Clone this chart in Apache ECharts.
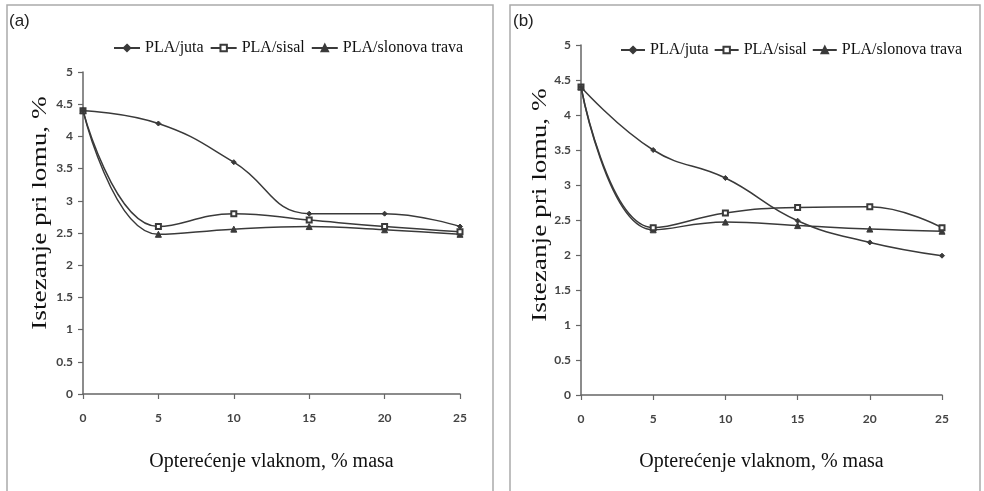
<!DOCTYPE html>
<html>
<head>
<meta charset="utf-8">
<script src="https://cdn.jsdelivr.net/npm/echarts@6/dist/echarts.min.js"></script>
<style>
html,body{margin:0;padding:0;background:#fff;}
#c{width:984px;height:491px;}
</style>
</head>
<body>
<div id="c"></div>
<script>
// ---- data ----
const loading = [0, 5, 10, 15, 20, 25];
const seriesNames = ['PLA/juta', 'PLA/sisal', 'PLA/slonova trava'];
// panel (a)
const aJuta    = [4.4, 4.2, 3.6, 2.8, 2.8, 2.6];
const aSisal   = [4.4, 2.6, 2.8, 2.7, 2.6, 2.52];
const aSlonova = [4.4, 2.48, 2.56, 2.6, 2.55, 2.48];
// panel (b)
const bJuta    = [4.4, 3.5, 3.1, 2.49, 2.18, 1.99];
const bSisal   = [4.4, 2.39, 2.6, 2.68, 2.69, 2.39];
const bSlonova = [4.4, 2.36, 2.47, 2.42, 2.37, 2.34];
const yTicks = [0, 0.5, 1, 1.5, 2, 2.5, 3, 3.5, 4, 4.5, 5];
const xTitle = 'Opterećenje vlaknom, % masa';
const yTitle = 'Istezanje pri lomu, %';

const pair = (xs, ys) => xs.map((x, i) => [x, ys[i]]);

const lineColor = '#3a3a3a';
const symbols = ['diamond', 'emptyRect', 'triangle'];
const symbolSizes = [5, 5, 6];

function mkSeries(name, idx, data, axisIdx) {
  return {
    type: 'line', name: name, xAxisIndex: axisIdx, yAxisIndex: axisIdx,
    data: data, smooth: 0.45,
    symbol: symbols[idx], symbolSize: symbolSizes[idx], showSymbol: true,
    lineStyle: {color: lineColor, width: 1.5},
    itemStyle: {color: lineColor, borderColor: lineColor, borderWidth: 1},
    emphasis: {disabled: true}, animation: false, z: 3 - idx
  };
}

const tickFont = {color: '#444', fontFamily: 'Lato', fontWeight: 'bold', fontSize: 12};
function mkX(grid, gap) {
  return {
    type: 'value', gridIndex: grid, min: 0, max: 25, interval: 5,
    name: xTitle, nameLocation: 'middle', nameGap: gap,
    nameTextStyle: {fontFamily: 'Liberation Serif', fontSize: 20, color: '#111'},
    axisLine: {show: true, onZero: false, lineStyle: {color: '#666', width: 1.5}},
    axisTick: {show: true, inside: false, length: 5, lineStyle: {color: '#666', width: 1.2}},
    axisLabel: Object.assign({margin: 18}, tickFont),
    splitLine: {show: false}
  };
}
function mkY(grid) {
  return {
    type: 'value', gridIndex: grid, min: 0, max: 5, interval: 0.5,
    axisLine: {show: true, lineStyle: {color: '#666', width: 1.5}},
    axisTick: {show: true, inside: false, length: 5, lineStyle: {color: '#666', width: 1.2}},
    axisLabel: Object.assign({margin: 10, formatter: v => String(v)}, tickFont),
    splitLine: {show: false}
  };
}
const legendText = {fontFamily: 'Liberation Serif', fontSize: 16, color: '#111'};

const chart = echarts.init(document.getElementById('c'), null, {renderer: 'canvas'});
chart.setOption({
  backgroundColor: '#fff',
  animation: false,
  grid: [
    {left: 83, top: 72, width: 377, height: 322},
    {left: 581, top: 45, width: 361, height: 350}
  ],
  xAxis: [mkX(0, 58), mkX(1, 57)],
  yAxis: [mkY(0), mkY(1)],
  legend: [
    {left: 108, top: 35, itemWidth: 26, itemHeight: 8, itemGap: 6, textStyle: legendText,
     data: seriesNames, selectedMode: false},
    {left: 615, top: 37, itemWidth: 24, itemHeight: 8, itemGap: 5, textStyle: legendText,
     data: seriesNames, selectedMode: false}
  ],
  series: [
    mkSeries(seriesNames[0], 0, pair(loading, aJuta), 0),
    mkSeries(seriesNames[1], 1, pair(loading, aSisal), 0),
    mkSeries(seriesNames[2], 2, pair(loading, aSlonova), 0),
    mkSeries(seriesNames[0], 0, pair(loading, bJuta), 1),
    mkSeries(seriesNames[1], 1, pair(loading, bSisal), 1),
    mkSeries(seriesNames[2], 2, pair(loading, bSlonova), 1)
  ],
  graphic: [
    {type: 'rect', shape: {x: 7, y: 5, width: 486, height: 500}, style: {fill: 'none', stroke: '#aaa', lineWidth: 1.5}, silent: true},
    {type: 'rect', shape: {x: 510, y: 5, width: 470, height: 500}, style: {fill: 'none', stroke: '#aaa', lineWidth: 1.5}, silent: true},
    {type: 'text', x: 9, y: 21, style: {text: '(a)', font: '17px "Liberation Sans"', fill: '#222', textVerticalAlign: 'middle'}, silent: true},
    {type: 'text', x: 513, y: 21, style: {text: '(b)', font: '17px "Liberation Sans"', fill: '#222', textVerticalAlign: 'middle'}, silent: true},
    {type: 'text', x: 40, y: 213, rotation: Math.PI / 2, scaleX: 1.3,
     style: {text: yTitle, font: '21px "Liberation Serif"', fill: '#111', textAlign: 'center', textVerticalAlign: 'middle'}, silent: true},
    {type: 'text', x: 540, y: 205, rotation: Math.PI / 2, scaleX: 1.3,
     style: {text: yTitle, font: '21px "Liberation Serif"', fill: '#111', textAlign: 'center', textVerticalAlign: 'middle'}, silent: true}
  ]
});
</script>
</body>
</html>
